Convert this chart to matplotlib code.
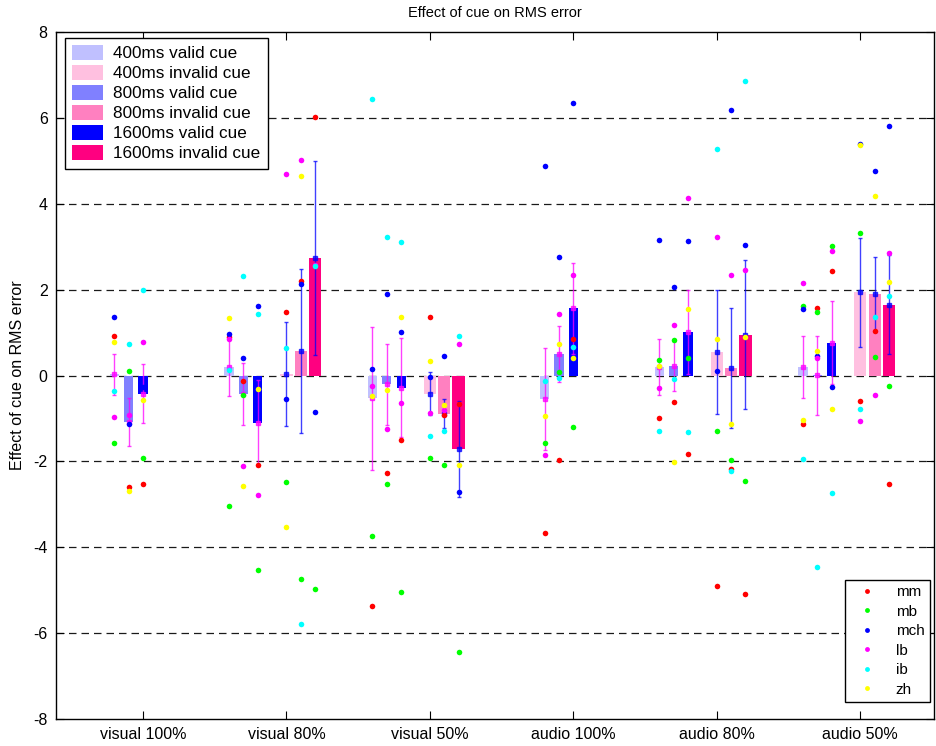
import numpy as np
import matplotlib
matplotlib.use("Agg")
import matplotlib.pyplot as plt
from matplotlib.patches import Patch
from matplotlib.lines import Line2D

plt.rcParams['font.family'] = ['Liberation Sans', 'DejaVu Sans']
plt.rcParams['axes.unicode_minus'] = False

groups = ['visual 100%', 'visual 80%', 'visual 50%', 'audio 100%', 'audio 80%', 'audio 50%']
subjects = ['mm', 'mb', 'mch', 'lb', 'ib', 'zh']
subject_colors = ['#ff0000', '#00ff00', '#0000ff', '#ff00ff', '#00ffff', '#ffff00']

conditions = ['400ms valid cue', '400ms invalid cue', '800ms valid cue',
              '800ms invalid cue', '1600ms valid cue', '1600ms invalid cue']
condition_colors = ['#c0c0ff', '#ffc0e0', '#8080ff', '#ff80c0', '#0000ff', '#ff0080']

nan = np.nan
# Effect of cue per subject: rows = groups, columns = subjects (mm, mb, mch, lb, ib, zh)
valid_400 = [
    [0.92, -1.57, 1.37, -0.96, -0.36, 0.77],
    [0.90, -3.03, 0.96, 0.85, 0.13, 1.33],
    [-5.36, -3.73, 0.16, -0.24, 6.44, -0.48],
    [-3.67, -1.58, 4.89, -1.85, -0.12, -0.95],
    [-0.99, 0.35, 3.16, -0.29, -1.29, 0.23],
    [-1.12, 1.62, 1.54, 2.16, -1.95, -1.03],
]
valid_800 = [
    [-2.60, 0.11, -1.14, -0.93, 0.74, -2.68],
    [-0.12, -0.45, 0.40, -2.11, 2.31, -2.58],
    [-2.27, -2.52, 1.89, -1.24, 3.22, -0.33],
    [-1.97, 0.09, 2.77, 1.43, -0.05, 0.73],
    [-0.62, 0.83, 2.06, 1.17, -0.08, -2.01],
    [1.58, 1.49, 0.46, 0.40, -4.46, 0.58],
]
valid_1600 = [
    [-2.52, -1.93, -0.26, 0.77, 1.98, -0.56],
    [-2.08, -4.54, 1.61, -2.78, 1.44, -0.31],
    [-1.51, -5.04, 1.01, -0.63, 3.12, 1.37],
    [0.85, -1.19, 6.34, 2.33, 0.67, 0.40],
    [-1.83, 0.41, 3.13, 4.13, -1.32, 1.55],
    [2.43, 3.01, -0.27, 2.91, -2.73, -0.79],
]
invalid_400 = [
    [nan] * 6,
    [1.48, -2.49, -0.54, 4.69, 0.64, -3.54],
    [1.37, -1.91, -0.03, -0.88, -1.42, 0.34],
    [nan] * 6,
    [-4.90, -1.29, 0.10, 3.23, 5.27, 0.85],
    [-0.60, 3.32, 5.40, -1.06, -0.79, 5.37],
]
invalid_800 = [
    [nan] * 6,
    [2.19, -4.75, 2.12, 5.03, -5.79, 4.64],
    [-0.93, -2.09, 0.46, -0.80, -1.29, -0.69],
    [nan] * 6,
    [-2.17, -1.96, 6.19, 2.34, -2.23, -1.14],
    [1.04, 0.43, 4.77, -0.45, 1.36, 4.19],
]
invalid_1600 = [
    [nan] * 6,
    [6.03, -4.97, -0.85, 2.57, 2.55, 11.1],
    [-0.67, -6.43, -2.72, 0.73, 0.92, -2.09],
    [nan] * 6,
    [-5.09, -2.45, 3.03, 2.46, 6.86, 0.90],
    [-2.52, -0.25, 5.80, 2.85, 1.84, 2.17],
]

# condition data in legend order
cond_data = [valid_400, invalid_400, valid_800, invalid_800, valid_1600, invalid_1600]
is_valid = [True, False, True, False, True, False]
size_rank = [0, 0, 1, 1, 2, 2]
full_validity = [True, False, False, True, False, False]

fig = plt.figure(figsize=(9.36, 7.46), dpi=100)
ax = fig.add_axes([56 / 936, 1 - 719 / 746, 878 / 936, 687 / 746])

xc = np.arange(1, len(groups) + 1)

for y in range(-6, 7, 2):
    ax.axhline(y, color='0.1', lw=0.9, ls=(0, (6, 4)), zorder=0.5)

positions = []
for ci, data in enumerate(cond_data):
    vals = np.array(data, dtype=float)
    k = size_rank[ci]
    xs = []
    for gi in range(len(groups)):
        if is_valid[ci]:
            off = (-0.2 + 0.1 * k) if full_validity[gi] else (-0.4 + 0.1 * k)
        else:
            off = 0.1 * k
        xs.append(xc[gi] + off)
    xs = np.array(xs)
    counts = np.sum(~np.isnan(vals), axis=1)
    mean = np.full(len(groups), np.nan)
    sem = np.full(len(groups), np.nan)
    for gi in range(len(groups)):
        if counts[gi] > 1:
            r = vals[gi]
            mean[gi] = np.nanmean(r)
            sem[gi] = np.nanstd(r, ddof=1) / np.sqrt(counts[gi])
    ok = ~np.isnan(mean)
    width = 0.065 if is_valid[ci] else 0.085
    ax.bar(xs[ok], mean[ok], width=width, color=condition_colors[ci],
           edgecolor='none', zorder=2, label=conditions[ci])
    ecol = '#ff00ff' if is_valid[ci] else '#0000ff'
    ax.errorbar(xs[ok], mean[ok], yerr=sem[ok], fmt='s', ms=2.2, color=ecol,
                elinewidth=1.0, capsize=1.5, capthick=1.0, alpha=0.75, zorder=3)
    positions.append((xs, vals))

for si, scol in enumerate(subject_colors):
    for xs, vals in positions:
        ax.plot(xs, vals[:, si], 'o', ms=4.0, mfc=scol, mec='none', ls='none', zorder=4)

ax.set_xlim(0.394, 6.514)
ax.set_ylim(-8, 8)
ax.set_xticks(xc)
ax.set_xticklabels(groups)
ax.set_yticks(range(-8, 9, 2))
ax.tick_params(direction='in', top=True, right=True, length=6, labelsize=11.5, pad=6)
for s in ax.spines.values():
    s.set_linewidth(1.0)

ax.set_title('Effect of cue on RMS error', fontsize=10.5, pad=11)
ax.set_ylabel('Effect of cue on RMS error', fontsize=11.5, labelpad=6)

bar_handles = [Patch(facecolor=c, edgecolor='none') for c in condition_colors]
leg1 = ax.legend(bar_handles, conditions, loc='upper left', bbox_to_anchor=(0.0103, 0.9913),
                 borderaxespad=0, fontsize=12.3, handlelength=1.8, handleheight=0.95,
                 handletextpad=0.6, labelspacing=0.22, borderpad=0.42, frameon=True,
                 fancybox=False, edgecolor='k', framealpha=1)
leg1.get_frame().set_linewidth(1.0)
ax.add_artist(leg1)

subj_handles = [Line2D([], [], marker='o', ls='none', ms=3.5, mfc=c, mec='none')
                for c in subject_colors]
leg2 = ax.legend(subj_handles, subjects, loc='lower right', bbox_to_anchor=(0.9954, 0.0247),
                 borderaxespad=0, fontsize=11, handlelength=2.2, handletextpad=0.8,
                 labelspacing=0.36, borderpad=0.35, frameon=True, fancybox=False,
                 edgecolor='k', framealpha=1)
leg2.get_frame().set_linewidth(1.0)

fig.savefig('out.png', dpi=100)
